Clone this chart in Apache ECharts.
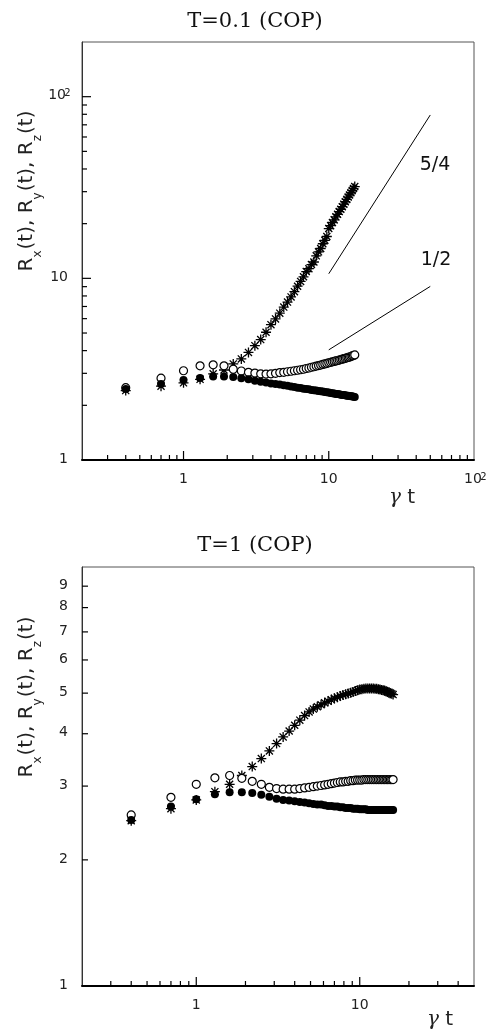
<!DOCTYPE html>
<html><head><meta charset="utf-8">
<script src="https://cdn.jsdelivr.net/npm/echarts@6/dist/echarts.min.js"></script>
<style>html,body{margin:0;padding:0;background:#fff}#c{width:491px;height:1032px}</style>
</head><body><div id="c"></div>
<script>
// ---------- data ----------
const timesTop = [0.4,0.7,1.0,1.3,1.6,1.9,2.2,2.5,2.8,3.1,3.4,3.7,4.0,4.3,4.6,4.9,5.2,5.5,5.8,6.1,6.4,6.7,7.0,7.3,7.6,7.9,8.2,8.5,8.8,9.1,9.4,9.7,10.0,10.3,10.6,10.9,11.2,11.5,11.8,12.1,12.4,12.7,13.0,13.3,13.6,13.9,14.2,14.5,14.8,15.1];
const rxTop = [2.41,2.55,2.66,2.78,2.98,3.13,3.38,3.60,3.91,4.26,4.60,5.05,5.56,5.98,6.43,6.95,7.40,7.90,8.45,9.05,9.62,10.2,10.9,11.3,11.9,12.3,13.3,14.0,14.6,15.5,16.2,17.0,18.8,19.5,20.3,21.0,21.8,22.5,23.3,24.0,24.8,25.6,26.4,27.2,28.0,28.8,29.6,30.4,31.2,32.0];
const ryTop = [2.50,2.82,3.10,3.30,3.34,3.30,3.16,3.09,3.04,3.01,2.98,2.97,2.98,3.00,3.03,3.04,3.06,3.08,3.10,3.12,3.14,3.16,3.19,3.21,3.24,3.26,3.29,3.31,3.33,3.36,3.38,3.40,3.43,3.45,3.47,3.49,3.51,3.53,3.55,3.57,3.59,3.61,3.63,3.65,3.67,3.69,3.71,3.74,3.76,3.79];
const rzTop = [2.46,2.62,2.76,2.83,2.88,2.88,2.86,2.82,2.78,2.73,2.70,2.67,2.64,2.62,2.60,2.58,2.56,2.54,2.52,2.50,2.49,2.47,2.46,2.45,2.43,2.42,2.41,2.40,2.39,2.38,2.37,2.36,2.35,2.34,2.33,2.32,2.31,2.31,2.30,2.29,2.28,2.28,2.27,2.26,2.26,2.25,2.24,2.24,2.23,2.22];
const slope54 = [[10,10.6],[50,79.3]];
const slope12 = [[10,4.04],[50,9.03]];

const timesBottom = [0.4,0.7,1.0,1.3,1.6,1.9,2.2,2.5,2.8,3.1,3.4,3.7,4.0,4.3,4.6,4.9,5.2,5.5,5.8,6.1,6.4,6.7,7.0,7.3,7.6,7.9,8.2,8.5,8.8,9.1,9.4,9.7,10.0,10.3,10.6,10.9,11.2,11.5,11.8,12.1,12.4,12.7,13.0,13.3,13.6,13.9,14.2,14.5,14.8,15.1,15.4,15.7,16.0];
const rxBottom = [2.48,2.65,2.78,2.91,3.03,3.18,3.34,3.49,3.64,3.79,3.93,4.06,4.19,4.31,4.42,4.51,4.58,4.64,4.69,4.74,4.78,4.82,4.86,4.89,4.92,4.95,4.97,4.99,5.01,5.03,5.06,5.08,5.10,5.11,5.12,5.13,5.13,5.13,5.13,5.13,5.12,5.12,5.11,5.10,5.09,5.08,5.07,5.05,5.03,5.02,5.00,4.98,4.96];
const ryBottom = [2.56,2.82,3.03,3.14,3.18,3.13,3.08,3.03,2.98,2.96,2.95,2.95,2.95,2.96,2.97,2.98,2.99,3.00,3.01,3.02,3.03,3.04,3.05,3.06,3.07,3.07,3.08,3.08,3.09,3.09,3.10,3.10,3.10,3.10,3.11,3.11,3.11,3.11,3.11,3.11,3.11,3.11,3.11,3.11,3.11,3.11,3.11,3.11,3.11,3.11,3.11,3.11,3.11];
const rzBottom = [2.49,2.68,2.79,2.87,2.90,2.90,2.89,2.86,2.83,2.80,2.78,2.77,2.76,2.75,2.74,2.73,2.72,2.71,2.71,2.70,2.69,2.69,2.68,2.68,2.67,2.67,2.66,2.66,2.66,2.65,2.65,2.65,2.64,2.64,2.64,2.64,2.63,2.63,2.63,2.63,2.63,2.63,2.63,2.63,2.63,2.63,2.63,2.63,2.63,2.63,2.63,2.63,2.63];

// tick labels and tick positions
const xLabelsTop = [1,10,100];
const yLabelsTop = [1,10,100];
const xLabelsBottom = [1,10];
const yLabelsBottom = [1,2,3,4,5,6,7,8,9];
const xMajorTop = [1,10];
const yMajorTop = [10,100];
const xMajorBottom = [1,10];
const xMinorTop = [0.3,0.4,0.5,0.6,0.7,0.8,0.9,2,3,4,5,6,7,8,9,20,30,40,50,60,70,80,90];
const yMinorTop = [2,3,4,5,6,7,8,9,20,30,40,50,60,70,80,90];
const xMinorBottom = [0.3,0.4,0.5,0.6,0.7,0.8,0.9,2,3,4,5,6,7,8,9,20,30,40];
const yMinorBottom = [2,3,4,5,6,7,8,9];

// ---------- styling ----------
const SANS = '"DejaVu Sans", sans-serif';
const SERIF = '"DejaVu Serif", serif';
const STAR = 'path://M0,-5L0,5M-5,0L5,0M-3.54,-3.54L3.54,3.54M-3.54,3.54L3.54,-3.54';

function pts(ts, vs){ return ts.map((t,i)=>[t, vs[i]]); }

function labelFmt(list){
  return function(v){
    if (list.indexOf(v) < 0) return '';
    if (v === 100) return '{n|10}{s|2}';
    return '{n|' + v + '}';
  };
}
const RICH = {
  n: {fontFamily: SANS, fontSize: 14, color: '#222', lineHeight: 16, verticalAlign: 'top'},
  s: {fontFamily: SANS, fontSize: 10, color: '#222', lineHeight: 10, verticalAlign: 'top', width: 1, align: 'left', padding: [0,0,0,1]}
};
function xAxisCfg(grid, max, labels){
  return {
    type: 'log', gridIndex: grid, min: 0.2, max: max,
    axisLine: {show: true, onZero: false, lineStyle: {color: '#000', width: 2}},
    axisTick: {show: false},
    splitLine: {show: false},
    axisLabel: {customValues: labels, formatter: labelFmt(labels), margin: 12, rich: RICH}
  };
}
function yAxisCfg(grid, max, labels){
  return {
    type: 'log', gridIndex: grid, min: 1, max: max,
    axisLine: {show: true, onZero: false, lineStyle: {color: '#333', width: 1}},
    axisTick: {show: false},
    splitLine: {show: false},
    axisLabel: {customValues: labels, formatter: labelFmt(labels), margin: 14, rich: RICH}
  };
}
// tick marks: thin rectangles placed on the axes through the log scales
function ticks(ax, dir, values, len){
  return {
    type: 'scatter', xAxisIndex: ax, yAxisIndex: ax, silent: true, animation: false, clip: false, z: 4,
    data: values.map(v => dir === 'x' ? [v, 1] : [0.2, v]),
    symbol: 'rect',
    symbolSize: dir === 'x' ? [1.2, len] : [len, 1.2],
    symbolOffset: dir === 'x' ? [0, -len / 2] : [len / 2, 0],
    itemStyle: {color: '#000', opacity: 1}
  };
}
function scatter(ax, data, kind){
  const base = {type: 'scatter', xAxisIndex: ax, yAxisIndex: ax, data: data, silent: true, animation: false};
  if (kind === 'star') return Object.assign(base, {symbol: STAR, symbolSize: 10, itemStyle: {color: '#000', borderColor: '#000', borderWidth: 1.3, opacity: 1}});
  if (kind === 'open') return Object.assign(base, {symbol: 'circle', symbolSize: 8, itemStyle: {color: '#fff', borderColor: '#000', borderWidth: 1.2, opacity: 1}});
  return Object.assign(base, {symbol: 'circle', symbolSize: 8, itemStyle: {color: '#000', borderWidth: 0, opacity: 1}});
}
function guide(data){
  return {type: 'line', xAxisIndex: 0, yAxisIndex: 0, data: data, symbol: 'none', silent: true, animation: false,
          lineStyle: {color: '#000', width: 1}};
}
function yName(y){
  return {type: 'text', x: 28, y: y, rotation: Math.PI/2, silent: true,
    style: {text: '{n|R}{s|x}{n|(t), R}{s|y}{n|(t), R}{s|z}{n|(t)}', align: 'center', verticalAlign: 'middle',
      rich: {
        n: {fontFamily: SANS, fontSize: 20, lineHeight: 22, verticalAlign: 'top', fill: '#222'},
        s: {fontFamily: SANS, fontSize: 12, lineHeight: 12, verticalAlign: 'top', padding: [15,1,0,0], fill: '#222'}
      }}};
}
function xName(x, y){
  return {type: 'text', x: x, y: y, silent: true,
    style: {text: '{g|γ}{t| t}', align: 'center', verticalAlign: 'middle',
      rich: {
        g: {fontFamily: SERIF, fontStyle: 'italic', fontSize: 20, fill: '#222'},
        t: {fontFamily: SANS, fontSize: 20, fill: '#222'}
      }}};
}
function plainText(x, y, text, font){
  return {type: 'text', x: x, y: y, silent: true,
    style: {text: text, align: 'center', verticalAlign: 'middle', font: font, fill: '#111'}};
}

const chart = echarts.init(document.getElementById('c'), null, {renderer: 'canvas'});
chart.setOption({
  animation: false,
  backgroundColor: '#fff',
  grid: [
    {left: 82, top: 42, width: 392, height: 418, show: true, borderColor: '#555', borderWidth: 1},
    {left: 82, top: 567, width: 392, height: 419, show: true, borderColor: '#555', borderWidth: 1}
  ],
  xAxis: [xAxisCfg(0, 100, xLabelsTop), xAxisCfg(1, 50, xLabelsBottom)],
  yAxis: [yAxisCfg(0, 200, yLabelsTop), yAxisCfg(1, 10, yLabelsBottom)],
  series: [
    ticks(0, 'x', xMajorTop, 9), ticks(0, 'x', xMinorTop, 5),
    ticks(0, 'y', yMajorTop, 9), ticks(0, 'y', yMinorTop, 5),
    ticks(1, 'x', xMajorBottom, 9), ticks(1, 'x', xMinorBottom, 5),
    ticks(1, 'y', yMinorBottom, 6),
    guide(slope54), guide(slope12),
    scatter(0, pts(timesTop, rxTop), 'star'),
    scatter(0, pts(timesTop, ryTop), 'open'),
    scatter(0, pts(timesTop, rzTop), 'filled'),
    scatter(1, pts(timesBottom, rxBottom), 'star'),
    scatter(1, pts(timesBottom, ryBottom), 'open'),
    scatter(1, pts(timesBottom, rzBottom), 'filled')
  ],
  graphic: [
    plainText(255, 22, 'T=0.1 (COP)', '21px "DejaVu Serif", serif'),
    plainText(255, 546, 'T=1 (COP)', '21px "DejaVu Serif", serif'),
    plainText(435, 165, '5/4', '19px "DejaVu Sans", sans-serif'),
    plainText(436, 260, '1/2', '19px "DejaVu Sans", sans-serif'),
    yName(191), yName(697),
    xName(402, 498), xName(440, 1020)
  ]
});
</script></body></html>
